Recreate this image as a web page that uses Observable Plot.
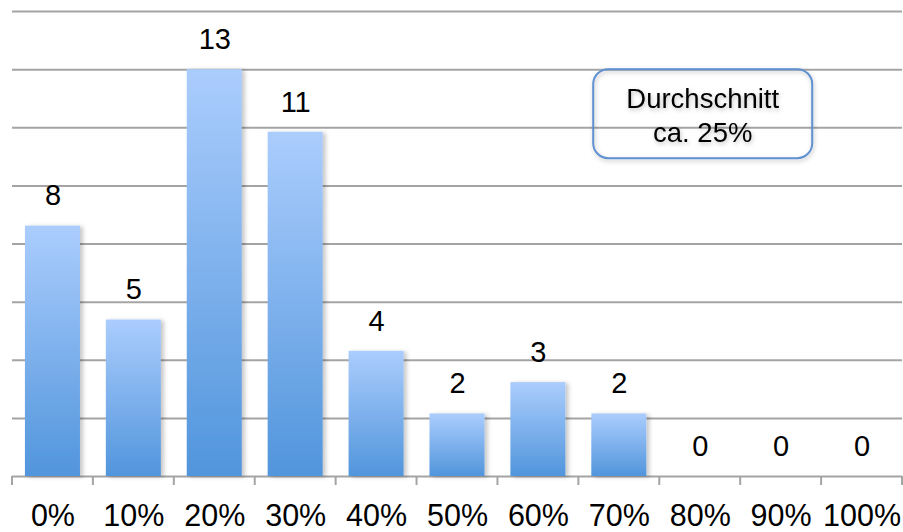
<!DOCTYPE html>
<html>
<head>
<meta charset="utf-8">
<script src="https://cdn.jsdelivr.net/npm/d3@7"></script>
<script src="https://cdn.jsdelivr.net/npm/@observablehq/plot@0.6"></script>
<style>
  html, body { margin: 0; padding: 0; background: #fff; }
  #chart svg { display: block; }
</style>
</head>
<body>
<div id="chart"></div>
<script>
// Answer buckets and how many responses fell into each
const categories = ["0%", "10%", "20%", "30%", "40%", "50%", "60%", "70%", "80%", "90%", "100%"];
const counts = [8, 5, 13, 11, 4, 2, 3, 2, 0, 0, 0];

// Callout text
const noteLines = ["Durchschnitt", "ca. 25%"];
const noteCategory = "80%";
const noteTopValue = 13;

const rows = categories.map((c, i) => ({category: c, count: counts[i]}));

// Vertical extent: eight equal grid bands, the seventh line sitting at the tallest bar
const gridCount = 8;
const yTop = d3.max(counts) * gridCount / (gridCount - 1);
const gridValues = d3.range(gridCount + 1).map(i => i * yTop / gridCount);

const font = "'Liberation Sans', Arial, Helvetica, sans-serif";
const gridColor = "#a4a4a4";

const W = 903, H = 532;
const M = {top: 11, right: 1, bottom: 56, left: 12};

// Gradient + shadow definitions shared by the marks
function defs() {
  const g = d3.create("svg:g");
  const d = g.append("defs");
  const grad = d.append("linearGradient")
    .attr("id", "barFill").attr("x1", 0).attr("y1", 0).attr("x2", 0).attr("y2", 1);
  grad.append("stop").attr("offset", "0%").attr("stop-color", "#abcdfd");
  grad.append("stop").attr("offset", "100%").attr("stop-color", "#5195dc");
  const sh = d.append("filter").attr("id", "barShadow")
    .attr("x", "-20%").attr("y", "-10%").attr("width", "150%").attr("height", "120%");
  sh.append("feDropShadow").attr("dx", 3).attr("dy", 1).attr("stdDeviation", 2)
    .attr("flood-color", "#000").attr("flood-opacity", 0.22);
  const ts = d.append("filter").attr("id", "softShadow")
    .attr("x", "-20%").attr("y", "-30%").attr("width", "140%").attr("height", "170%");
  ts.append("feDropShadow").attr("dx", 1).attr("dy", 2).attr("stdDeviation", 2)
    .attr("flood-color", "#000").attr("flood-opacity", 0.25);
  return g.node();
}

// Small ticks on the category boundaries below the baseline
function boundaryTicks(index, scales, values, dimensions) {
  const {width, height, marginLeft, marginRight, marginBottom} = dimensions;
  const n = categories.length;
  const step = (width - marginLeft - marginRight) / n;
  const y0 = height - marginBottom;
  const g = d3.create("svg:g").attr("stroke", gridColor).attr("stroke-width", 2);
  for (let i = 0; i <= n; i++) {
    const x = marginLeft + i * step;
    g.append("line").attr("x1", x).attr("x2", x).attr("y1", y0).attr("y2", y0 + 9);
  }
  return g.node();
}

// Rounded callout box with the average
function callout(index, scales) {
  const bw = scales.x.bandwidth ? scales.x.bandwidth() : 0;
  const cx = scales.x(noteCategory) + bw / 2 + 3;
  const top = scales.y(noteTopValue);
  const boxW = 219, boxH = 89;
  const g = d3.create("svg:g");
  g.append("rect")
    .attr("x", cx - boxW / 2).attr("y", top)
    .attr("width", boxW).attr("height", boxH)
    .attr("rx", 15).attr("ry", 15)
    .attr("fill", "none").attr("stroke", "#5f90cf").attr("stroke-width", 2)
    .attr("filter", "url(#softShadow)");
  const t = g.append("g")
    .attr("font-family", font).attr("font-size", 27.5)
    .attr("text-anchor", "middle").attr("fill", "#000")
    .attr("filter", "url(#softShadow)");
  t.append("text").attr("x", cx).attr("y", top + 39).text(noteLines[0]);
  t.append("text").attr("x", cx).attr("y", top + 73).text(noteLines[1]);
  return g.node();
}

const chart = Plot.plot({
  width: W,
  height: H,
  marginTop: M.top,
  marginRight: M.right,
  marginBottom: M.bottom,
  marginLeft: M.left,
  style: {fontFamily: font, background: "#fff", overflow: "visible"},
  x: {type: "band", domain: categories, paddingInner: 0.32, paddingOuter: 0.16, round: false, axis: null},
  y: {domain: [0, yTop], axis: null},
  marks: [
    defs,
    Plot.ruleY(gridValues, {stroke: gridColor, strokeWidth: 2}),
    Plot.barY(rows, {
      x: "category", y: "count",
      fill: "url(#barFill)",
      filter: d => d.count > 0
    }),
    boundaryTicks,
    Plot.text(rows, {
      x: "category", y: "count", text: d => String(d.count),
      dy: -30, fontSize: 29, fill: "#000", lineAnchor: "middle"
    }),
    Plot.text(rows, {
      x: "category", text: "category", frameAnchor: "bottom",
      dy: 40, fontSize: 30.5, fill: "#000", lineAnchor: "middle"
    }),
    callout
  ]
});

// Shadow on the bars
d3.select(chart).selectAll("rect").each(function () {
  if (this.getAttribute("fill") === "url(#barFill)" || (this.parentNode && this.parentNode.getAttribute("fill") === "url(#barFill)")) {
    this.setAttribute("filter", "url(#barShadow)");
  }
});

document.getElementById("chart").appendChild(chart);
</script>
</body>
</html>
